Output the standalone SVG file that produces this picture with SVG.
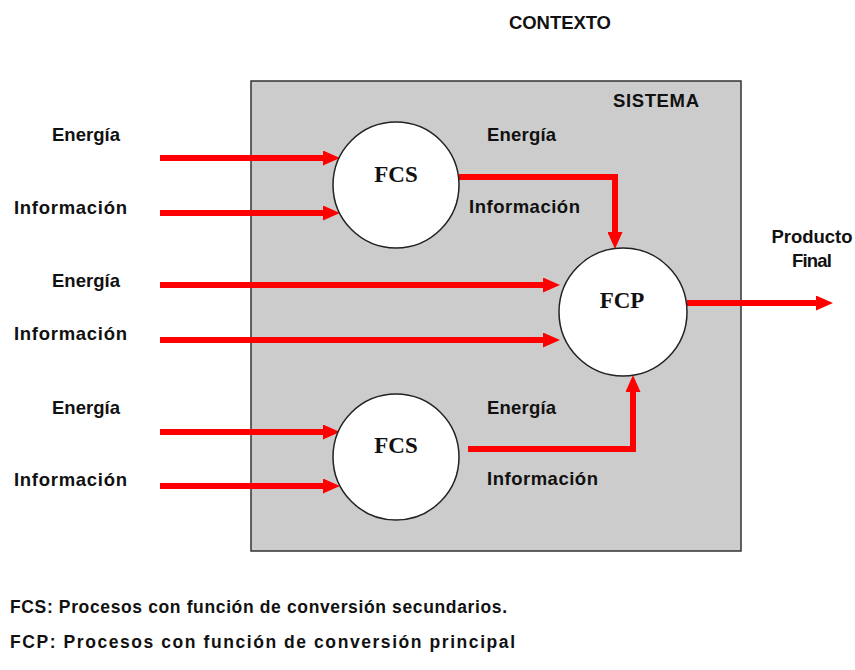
<svg xmlns="http://www.w3.org/2000/svg" width="855" height="670" viewBox="0 0 855 670">
<defs>
<style>
.lbl{font-family:"Liberation Sans",Arial,sans-serif;font-weight:bold;font-size:18.5px;fill:#111}
.node{font-family:"Liberation Serif","Times New Roman",serif;font-weight:bold;font-size:23px;fill:#111;text-anchor:middle}
.foot{font-family:"Liberation Sans",Arial,sans-serif;font-weight:bold;font-size:17.5px;fill:#111}
.circ{fill:#fff;stroke:#222;stroke-width:1.5}
.arr{fill:none;stroke:#ff0000;stroke-width:6;stroke-linejoin:miter;marker-end:url(#ah)}
</style>
<marker id="ah" markerUnits="userSpaceOnUse" markerWidth="17" markerHeight="15" refX="4" refY="7.5" orient="auto">
<path d="M0,0 L17,7.5 L0,15 z" fill="#ff0000"/>
</marker>
</defs>
<rect width="855" height="670" fill="#fff"/>
<text class="lbl" x="560" y="29" text-anchor="middle" textLength="102">CONTEXTO</text>
<g id="sistema">
<rect x="251" y="81" width="490" height="470" fill="#cccccc" stroke="#333" stroke-width="1.5"/>
<text class="lbl" x="656" y="107" text-anchor="middle" textLength="86">SISTEMA</text>
</g>
<g id="connectors">
<line class="arr" x1="160" y1="158" x2="327" y2="158"/>
<line class="arr" x1="160" y1="213" x2="327" y2="213"/>
<line class="arr" x1="160" y1="285" x2="547" y2="285"/>
<line class="arr" x1="160" y1="340" x2="547" y2="340"/>
<line class="arr" x1="160" y1="432" x2="327" y2="432"/>
<line class="arr" x1="160" y1="486" x2="327" y2="486"/>
<polyline class="arr" points="459,177 615,177 615,236"/>
<polyline class="arr" points="468,449 633,449 633,388"/>
<line class="arr" x1="687" y1="303" x2="820" y2="303"/>
</g>
<g id="fcs-top">
<circle class="circ" cx="396" cy="185" r="63"/>
<text class="node" x="396" y="182">FCS</text>
</g>
<g id="fcp">
<circle class="circ" cx="623" cy="312" r="64"/>
<text class="node" x="622" y="308">FCP</text>
</g>
<g id="fcs-bottom">
<circle class="circ" cx="396" cy="457" r="63"/>
<text class="node" x="396" y="453">FCS</text>
</g>
<g id="labels">
<text class="lbl" x="52" y="141" textLength="68">Energía</text>
<text class="lbl" x="14" y="214" textLength="113">Información</text>
<text class="lbl" x="52" y="287" textLength="68">Energía</text>
<text class="lbl" x="14" y="340" textLength="113">Información</text>
<text class="lbl" x="52" y="414" textLength="68">Energía</text>
<text class="lbl" x="14" y="486" textLength="113">Información</text>
<text class="lbl" x="487" y="141" textLength="69">Energía</text>
<text class="lbl" x="469" y="213" textLength="111">Información</text>
<text class="lbl" x="487" y="414" textLength="69">Energía</text>
<text class="lbl" x="487" y="485" textLength="111">Información</text>
<text class="lbl" x="812" y="243" text-anchor="middle" textLength="81">Producto</text>
<text class="lbl" x="812" y="267" text-anchor="middle" textLength="40">Final</text>
</g>
<g id="legend">
<text class="foot" x="10" y="613" textLength="497">FCS: Procesos con función de conversión secundarios.</text>
<text class="foot" x="10" y="648" textLength="505">FCP: Procesos con función de conversión principal</text>
</g>
</svg>
